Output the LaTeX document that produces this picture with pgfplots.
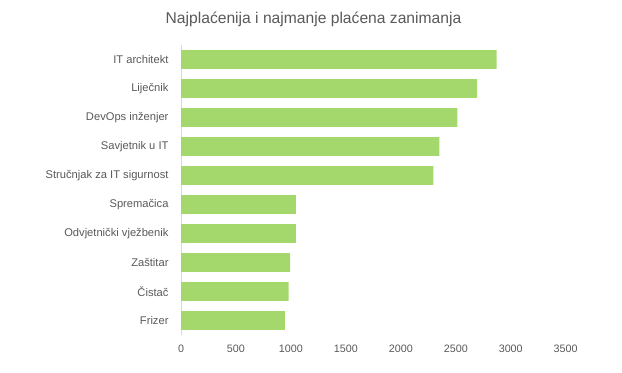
\documentclass[border=0pt]{standalone}
\usepackage{pgfplots}
\pgfplotsset{compat=1.18}
\usepackage{fontspec}
\setmainfont{Liberation Sans}
\definecolor{barg}{HTML}{A5D86C}
\definecolor{txt}{HTML}{595959}
\definecolor{axl}{HTML}{D9D9D9}
\begin{document}
\begin{tikzpicture}
\path[use as bounding box] (0,0) rectangle (622bp,373bp);
\begin{axis}[
  at={(181bp,38bp)}, anchor=south west,
  scale only axis, width=384.7bp, height=290bp,
  xbar, bar width=18.7bp,
  xmin=0, xmax=3500, ymin=-0.5, ymax=9.5,
  xtick={0,500,...,3500},
  ytick={0,...,9},
  yticklabels={Frizer,Čistač,Zaštitar,Odvjetnički vježbenik,Spremačica,Stručnjak za IT sigurnost,Savjetnik u IT,DevOps inženjer,Liječnik,IT architekt},
  /pgf/number format/1000 sep={},
  /pgf/number format/assume math mode=true,
  major tick length=0pt,
  axis lines*=left,
  x axis line style={draw=none},
  y axis line style={draw=axl, line width=0.8pt},
  ticklabel style={text=txt},
  yticklabel style={font=\fontsize{11.2}{13}\selectfont, xshift=-9bp},
  xticklabel style={font=\fontsize{10.8}{13}\selectfont, yshift=-6bp},
  clip=false,
]
\addplot[fill=barg, draw=none] coordinates {
(946,0) (980,1) (992,2) (1046,3) (1046,4) (2296,5) (2350,6) (2514,7) (2693,8) (2872,9)
};
\end{axis}
\node[font=\fontsize{15.7}{18}\selectfont, text=txt] at (313.5bp,354bp) {Najplaćenija i najmanje plaćena zanimanja};
\end{tikzpicture}
\end{document}
